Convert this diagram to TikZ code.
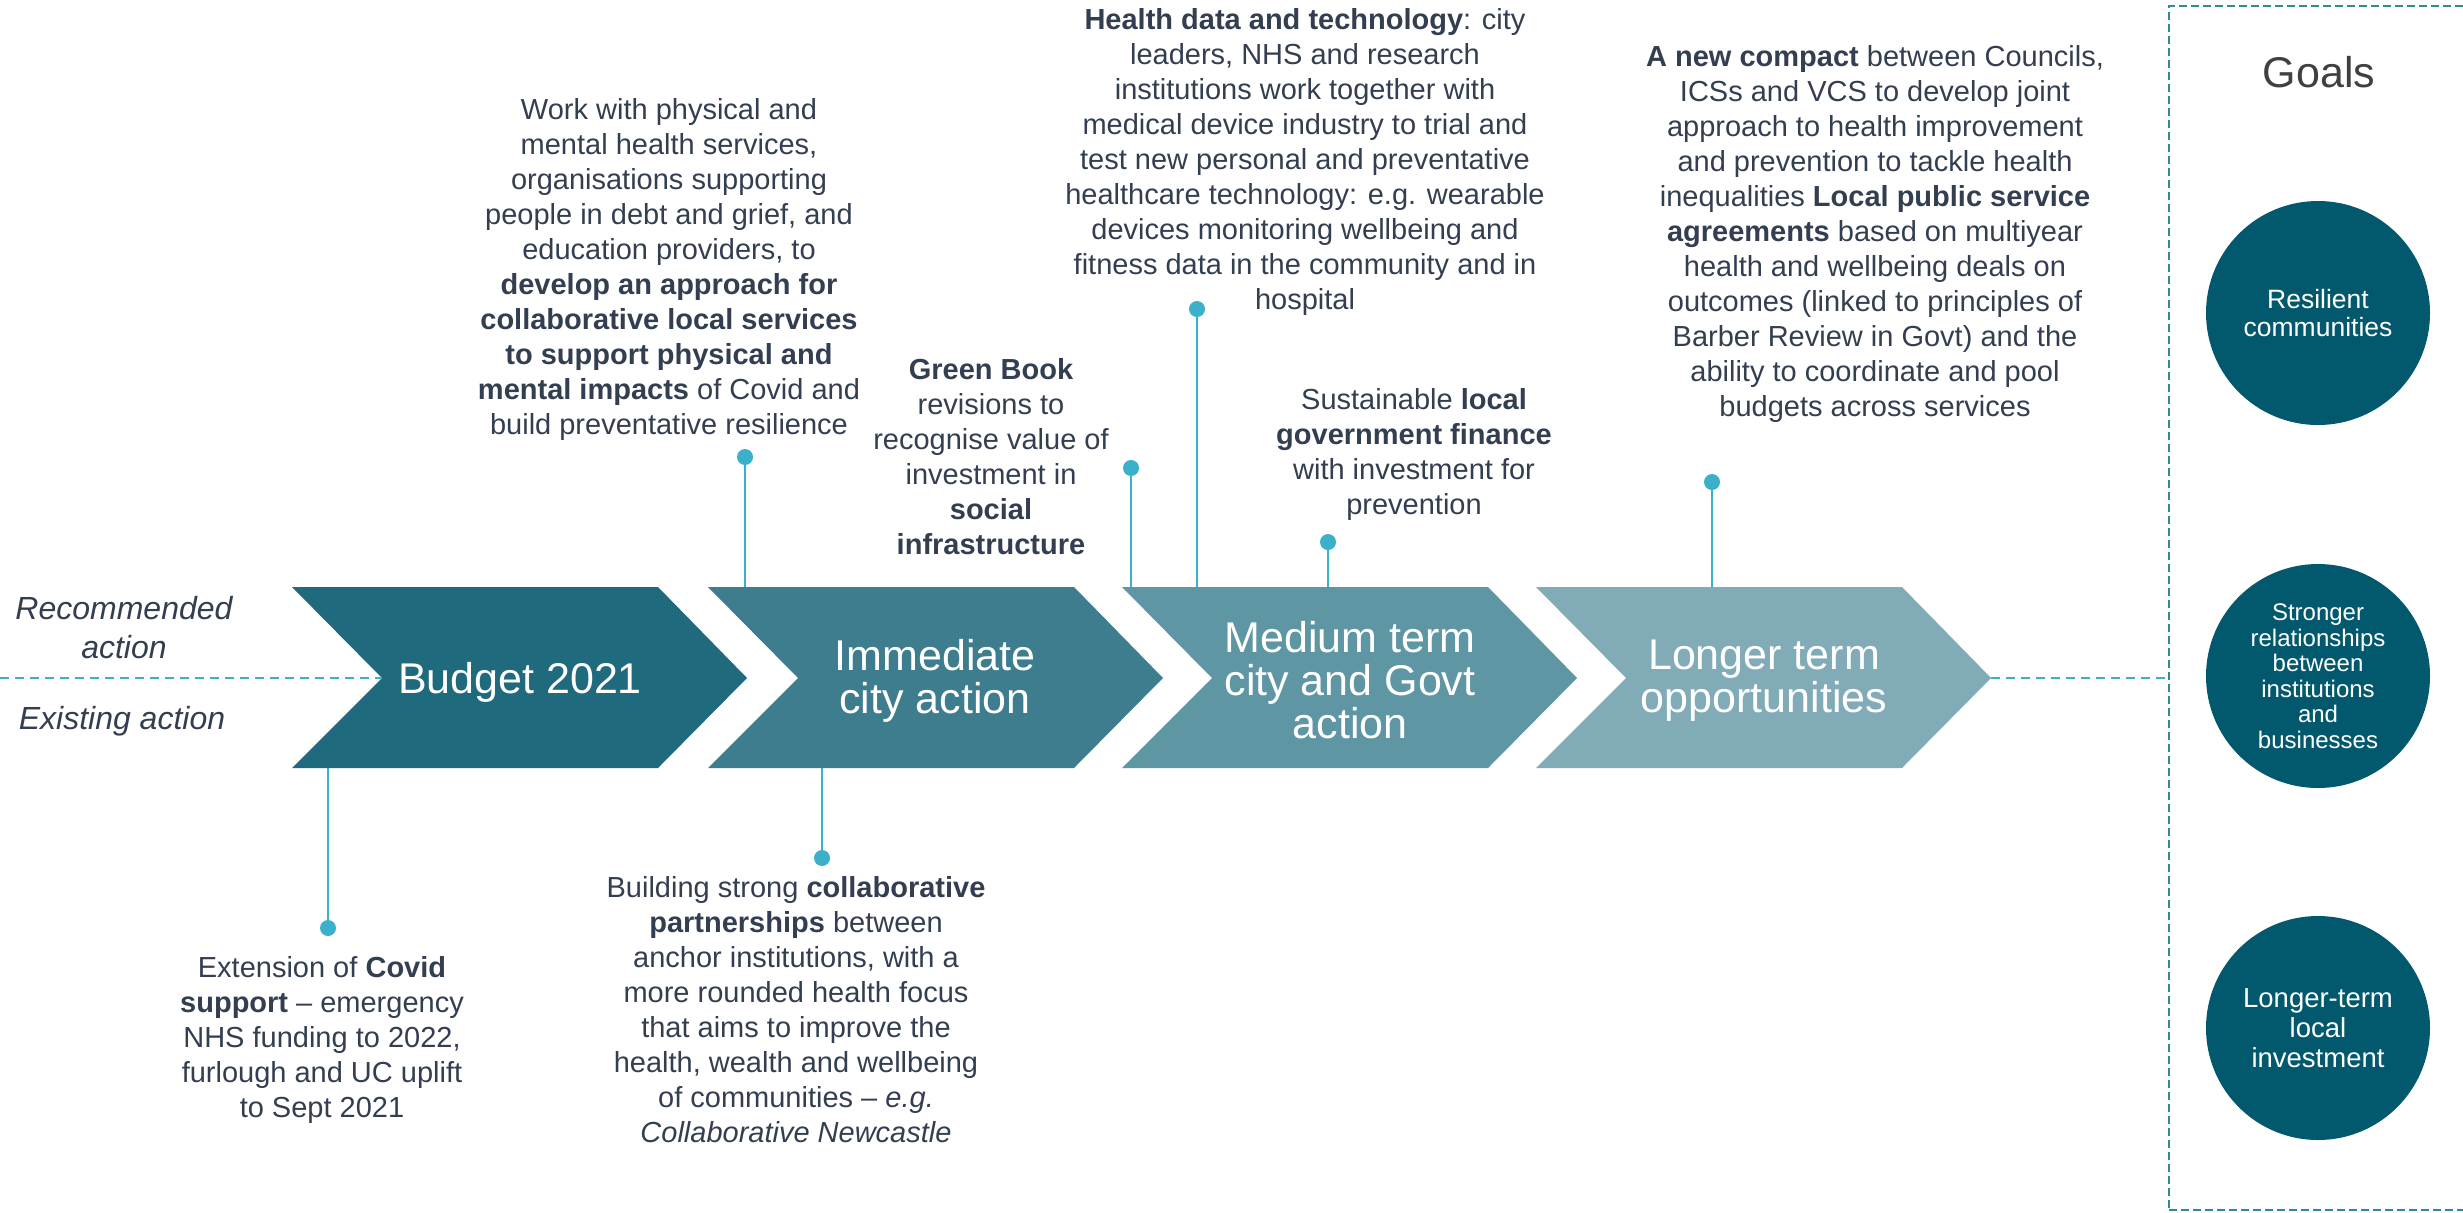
\documentclass[tikz,border=0pt]{standalone}
\usepackage{fontspec}
\setmainfont{Liberation Sans}
\definecolor{txtc}{HTML}{333F50}
\definecolor{ch1}{HTML}{1F6A7C}
\definecolor{ch2}{HTML}{3D7D8E}
\definecolor{ch3}{HTML}{5F96A3}
\definecolor{ch4}{HTML}{80ABB7}
\definecolor{goalc}{HTML}{02586C}
\definecolor{linkc}{HTML}{3BB0CB}
\definecolor{boxc}{HTML}{2F8A9A}
\definecolor{goalt}{HTML}{404040}
\begin{document}
\begin{tikzpicture}[x=0.5pt,y=-0.5pt,
 body/.style={font=\fontsize{14.5}{17.5}\selectfont, text=txtc, align=center, inner sep=0pt, anchor=north, execute at begin node=\strut},
 chevtxt/.style={font=\fontsize{21.5}{21.5}\selectfont, text=white, align=center, inner sep=0pt},
 side/.style={font=\fontsize{16}{19.5}\selectfont\itshape, text=txtc, align=center, inner sep=0pt, anchor=north, execute at begin node=\strut},
 dot/.style={circle, fill=linkc, inner sep=0pt, minimum size=8pt},
 link/.style={draw=linkc, line width=1.4pt},
 timeline/.style={draw=linkc, line width=1pt, dash pattern=on 4.5pt off 3pt},
 goal/.style={circle, fill=goalc, text=white, align=center, inner sep=0pt, minimum size=112pt},
 goalbox/.style={draw=boxc, line width=1.2pt, dash pattern=on 4pt off 2pt, inner sep=0pt},
]
\clip (0,0) rectangle (2463,1212);
\fill[white] (0,0) rectangle (2463,1212);

% chevrons
\foreach \L/\c in {292/ch1,708/ch2,1122/ch3,1536/ch4}
  \fill[\c] (\L,587) -- ++(366,0) -- ++(89,91) -- ++(-89,90) -- ++(-366,0) -- ++(90,-90) -- cycle;

\coordinate (top) at (0,587);
\coordinate (bot) at (0,768);
\coordinate (start) at (0,678);
\coordinate (n1) at (382,678);
\coordinate (t4) at (1991,678);

\node[chevtxt] (c1) at (520,682) {Budget 2021};
\node[chevtxt] (c2) at (935,681) {Immediate\\city action};
\node[chevtxt] (c3) at (1350,680) {Medium term\\city and Govt\\action};
\node[chevtxt] (c4) at (1764,681) {Longer term\\opportunities};

% side labels
\node[side] (rec) at (124,596) {Recommended\\action};
\node[side] (exi) at (122,702) {Existing action};

% goals box
\node[goalbox, anchor=north west, minimum width=153.5pt, minimum height=602pt] (gb) at (2168,5) {};
\node[anchor=base, inner sep=0pt, text=goalt, font=\fontsize{21.5}{25}\selectfont] (goals) at (2319,87) {Goals};
\node[goal, font=\fontsize{13.25}{14.3}\selectfont] (g1) at (2318,313) {Resilient\\communities};
\node[goal, font=\fontsize{12}{12.75}\selectfont] (g2) at (2318,676) {Stronger\\relationships\\between\\institutions\\and\\businesses};
\node[goal, font=\fontsize{13.75}{15}\selectfont] (g3) at (2318,1028) {Longer-term\\local\\investment};

% timeline
\draw[timeline] (start) -- (n1);
\draw[timeline] (t4) -- (t4 -| gb.west);

% text blocks
\node[body] (tA) at (669,98.5) {Work with physical and\\mental health services,\\organisations supporting\\people in debt and grief, and\\education providers, to\\\textbf{develop an approach for}\\\textbf{collaborative local services}\\\textbf{to support physical and}\\\textbf{mental impacts} of Covid and\\build preventative resilience};
\node[body] (tB) at (322,956.5) {Extension of \textbf{Covid}\\\textbf{support} -- emergency\\NHS funding to 2022,\\furlough and UC uplift\\to Sept 2021};
\node[body] (tC) at (796,876.5) {Building strong \textbf{collaborative}\\\textbf{partnerships} between\\anchor institutions, with a\\more rounded health focus\\that aims to improve the\\health, wealth and wellbeing\\of communities -- \textit{e.g.}\\\textit{Collaborative Newcastle}};
\node[body] (tD) at (991,358.5) {\textbf{Green Book}\\revisions to\\recognise value of\\investment in\\\textbf{social}\\\textbf{infrastructure}};
\node[body] (tE) at (1305,8.5) {\textbf{Health data and technology}: city\\leaders, NHS and research\\institutions work together with\\medical device industry to trial and\\test new personal and preventative\\healthcare technology: e.g. wearable\\devices monitoring wellbeing and\\fitness data in the community and in\\hospital};
\node[body] (tF) at (1414,388.5) {Sustainable \textbf{local}\\\textbf{government finance}\\with investment for\\prevention};
\node[body] (tG) at (1875,45.5) {\textbf{A new compact} between Councils,\\ICSs and VCS to develop joint\\approach to health improvement\\and prevention to tackle health\\inequalities \textbf{Local public service}\\\textbf{agreements} based on multiyear\\health and wellbeing deals on\\outcomes (linked to principles of\\Barber Review in Govt) and the\\ability to coordinate and pool\\budgets across services};

% dots and connectors
\node[dot] (dA) at (745,457) {};
\node[dot] (dB) at (328,928) {};
\node[dot] (dC) at (822,858) {};
\node[dot] (dD) at (1131,468) {};
\node[dot] (dE) at (1197,309) {};
\node[dot] (dF) at (1328,542) {};
\node[dot] (dG) at (1712,482) {};
\draw[link] (dA) -- (dA |- top);
\draw[link] (dB) -- (dB |- bot);
\draw[link] (dC) -- (dC |- bot);
\draw[link] (dD) -- (dD |- top);
\draw[link] (dE) -- (dE |- top);
\draw[link] (dF) -- (dF |- top);
\draw[link] (dG) -- (dG |- top);
\end{tikzpicture}
\end{document}
